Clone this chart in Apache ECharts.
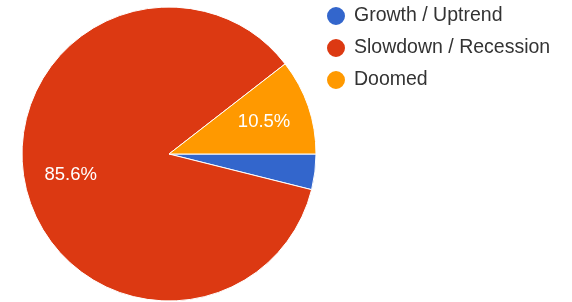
<!DOCTYPE html>
<html>
<head>
<meta charset="utf-8">
<script src="https://cdn.jsdelivr.net/npm/echarts@6/dist/echarts.min.js"></script>
<style>
  html, body { margin: 0; padding: 0; background: #fff; }
  #chart { width: 572px; height: 302px; }
</style>
</head>
<body>
<div id="chart"></div>
<script>
// answers, in drawing order (clockwise from 3 o'clock)
var categories = ['Growth / Uptrend', 'Slowdown / Recession', 'Doomed']
var shares = [3.9, 85.6, 10.5]
var colors = ['#3366cc', '#dc3912', '#ff9900']

var chart = echarts.init(document.getElementById('chart'))

var pieData = categories.map(function (name, i) {
  return { name: name, value: shares[i] }
})

// labels sit further out than ECharts' half-radius, so a see-through ring carries them
var labelData = categories.map(function (name, i) {
  return {
    name: name,
    value: shares[i],
    label: { show: shares[i] >= 5 }
  }
})

var option = {
  animation: false,
  color: colors,
  legend: {
    orient: 'vertical',
    left: 325,
    top: 5,
    padding: 0,
    icon: 'circle',
    itemWidth: 20,
    itemHeight: 20,
    itemGap: 10,
    textStyle: {
      fontFamily: 'Liberation Sans',
      fontSize: 19.5,
      color: '#333',
      padding: [0, 0, 0, 3]
    },
    data: categories
  },
  series: [
    {
      type: 'pie',
      center: [169, 154],
      radius: [0, 147],
      startAngle: 0,
      clockwise: true,
      data: pieData,
      itemStyle: { borderColor: '#fff', borderWidth: 1 },
      label: { show: false },
      labelLine: { show: false },
      emphasis: { disabled: true }
    },
    {
      type: 'pie',
      silent: true,
      center: [169, 154],
      radius: [48, 147],
      startAngle: 0,
      clockwise: true,
      data: labelData,
      itemStyle: { color: 'transparent' },
      label: {
        position: 'inside',
        formatter: function (p) { return p.value.toFixed(1) + '%' },
        fontFamily: 'Liberation Sans',
        fontSize: 18.5,
        color: '#fff'
      },
      labelLine: { show: false },
      legendHoverLink: false
    }
  ]
}

chart.setOption(option)
</script>
</body>
</html>
